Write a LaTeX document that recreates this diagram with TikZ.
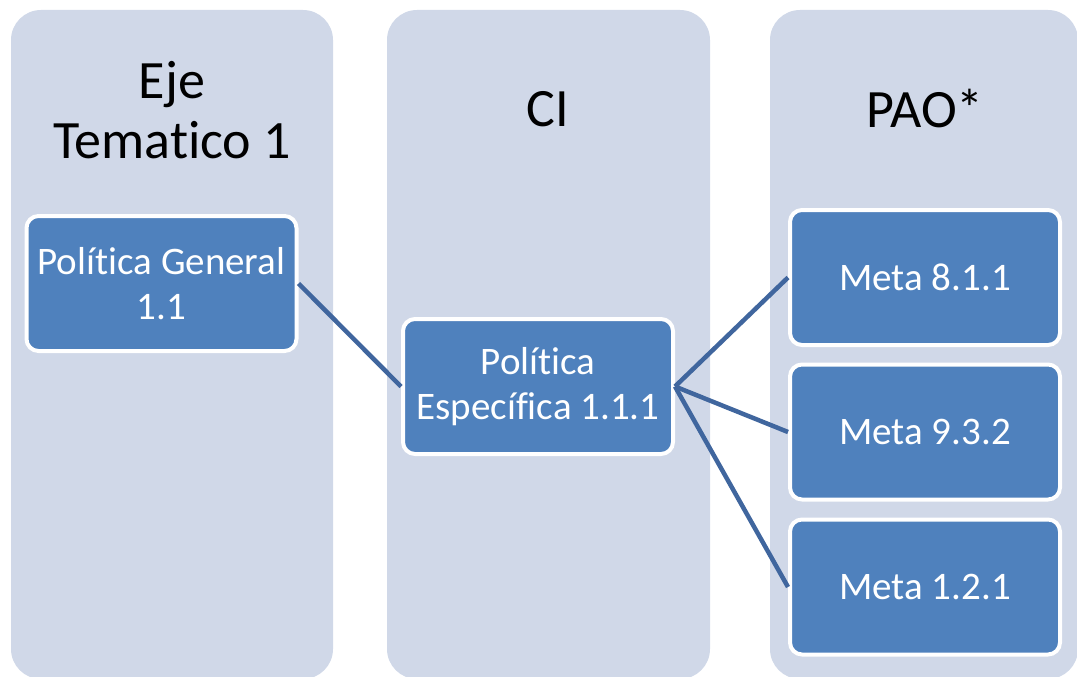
\documentclass[tikz,border=0pt]{standalone}
\usepackage{fontspec}
\setmainfont{Carlito}[Ligatures=NoCommon]
\usetikzlibrary{positioning}
\definecolor{mpale}{RGB}{208,216,232}
\definecolor{mblue}{RGB}{79,129,189}
\definecolor{mline}{RGB}{64,102,158}
\tikzset{lane/.style = {fill=mpale, rounded corners=30pt},
         head/.style = {align=center, font=\fontsize{54}{60}\selectfont},
         item/.style = {draw=white, line width=4pt, fill=mblue, rounded corners=12pt,
                        minimum width=270pt, minimum height=135pt, inner sep=0pt,
                        align=center, text=white, font=\fontsize{39}{45}\selectfont},
         link/.style = {draw=mline, line width=4.5pt}}

\begin{document}
\begin{tikzpicture}[x=1pt, y=-1pt]
    \useasboundingbox (0, 0) rectangle (1077, 677);

    % columns
    \fill [lane] (11, 10) rectangle (333, 679);
    \fill [lane] (387, 10) rectangle (710, 679);
    \fill [lane] (770, 10) rectangle (1078, 679);

    \node [head] (eje) at (172, 110) {Eje\\Tematico 1};
    \node [head] (ci) at (548, 109) {CI};
    \node [head] (pao) at (925, 109) {PAO*};

    \node [item] (general) at (161.5, 283.5) {Política General\\1.1};
    \node [item] (especifica) at (538, 386.5) {Política\\Específica 1.1.1};
    \node [item] (meta1) at (925, 277.5) {Meta 8.1.1};
    \node [item] (meta2) at (925, 432) {Meta 9.3.2};
    \node [item] (meta3) at (925, 587) {Meta 1.2.1};

    \draw [link] (general.east) -- (especifica.west);
    \draw [link] (especifica.east) -- (meta1.west);
    \draw [link] (especifica.east) -- (meta2.west);
    \draw [link] (especifica.east) -- (meta3.west);
\end{tikzpicture}
\end{document}
